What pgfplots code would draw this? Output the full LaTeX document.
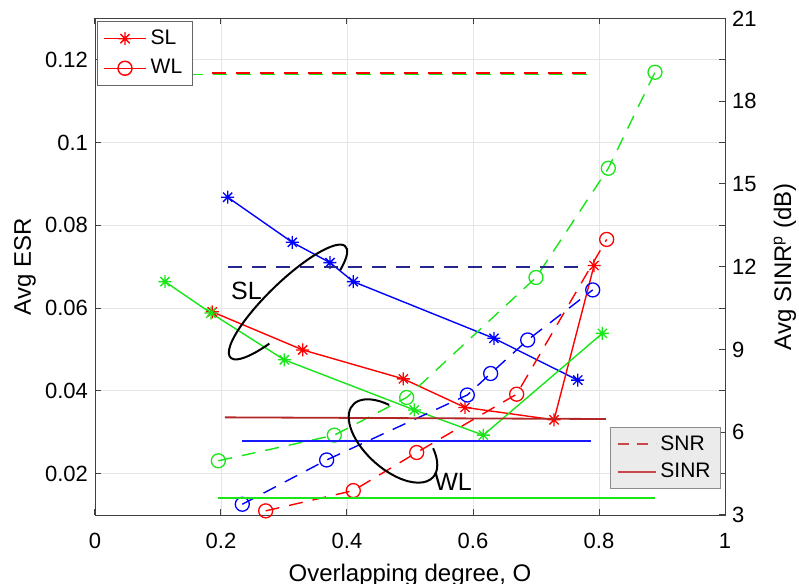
\documentclass[border=0pt]{standalone}
\usepackage{fontspec}
\setmainfont{Liberation Sans}
\usepackage{pgfplots}
\pgfplotsset{compat=1.18}
\definecolor{mred}{rgb}{1,0,0}
\definecolor{mgreen}{rgb}{0.1,0.9,0.1}
\definecolor{mblue}{rgb}{0,0,1}
\definecolor{hblue}{rgb}{0.1,0.1,1}
\definecolor{navy}{rgb}{0.15,0.15,0.55}
\definecolor{dred}{rgb}{0.7,0.15,0.15}
\definecolor{lred}{rgb}{0.8,0.28,0.28}
\pgfdeclareplotmark{ast}{%
 \pgfpathmoveto{\pgfqpoint{-\pgfplotmarksize}{0pt}}\pgfpathlineto{\pgfqpoint{\pgfplotmarksize}{0pt}}%
 \pgfpathmoveto{\pgfqpoint{0pt}{-\pgfplotmarksize}}\pgfpathlineto{\pgfqpoint{0pt}{\pgfplotmarksize}}%
 \pgfpathmoveto{\pgfqpoint{-0.7071\pgfplotmarksize}{-0.7071\pgfplotmarksize}}\pgfpathlineto{\pgfqpoint{0.7071\pgfplotmarksize}{0.7071\pgfplotmarksize}}%
 \pgfpathmoveto{\pgfqpoint{-0.7071\pgfplotmarksize}{0.7071\pgfplotmarksize}}\pgfpathlineto{\pgfqpoint{0.7071\pgfplotmarksize}{-0.7071\pgfplotmarksize}}%
 \pgfusepathqstroke}
\pgfplotsset{
 commonax/.style={width=315pt, height=248.25pt, scale only axis, xmin=0, xmax=1,
   axis line style={black!75}, tick style={black!75, line width=0.5pt}, major tick length=3pt,
   ticklabel style={font=\fontsize{11}{13}\selectfont},
   label style={font=\fontsize{12}{14}\selectfont},
   legend cell align=left},
 mystar/.style={line width=0.7pt, mark=ast, mark size=3.25pt, mark options={solid, line width=0.65pt}},
 mycirc/.style={line width=0.7pt, dash pattern=on 7pt off 5pt, mark=o, mark size=3.5pt, mark options={solid, line width=0.65pt}},
}
\begin{document}
\begin{tikzpicture}
\useasboundingbox (-47.5pt,-34.5pt) rectangle (352pt,257.5pt);
% left axis: ESR
\begin{axis}[commonax,
  ymin=0.01, ymax=0.13,
  xtick={0,0.2,0.4,0.6,0.8,1}, xticklabels={0,0.2,0.4,0.6,0.8,1},
  ytick={0.02,0.04,0.06,0.08,0.1,0.12}, yticklabels={0.02,0.04,0.06,0.08,0.1,0.12},
  grid=major, grid style={black!10, line width=0.4pt},
  xlabel={Overlapping degree, O}, ylabel={Avg ESR},
  xlabel style={at={(axis description cs:0.5,-0.121)}, anchor=center},
  ylabel style={at={(axis description cs:-0.111,0.5)}, anchor=center},
  xticklabel style={yshift=-5.5pt},
]
% SL (stars)
\addplot[color=mblue, mystar] coordinates {(0.2106,0.0868) (0.3132,0.0759) (0.3730,0.0710) (0.4100,0.0664) (0.6333,0.0527) (0.7662,0.0426)};
\addplot[color=mred, mystar] coordinates {(0.1862,0.0591) (0.3297,0.0499) (0.4894,0.0429) (0.5873,0.0360) (0.7286,0.0330) (0.7921,0.0703)};
\addplot[color=mgreen, mystar] coordinates {(0.1111,0.0664) (0.1841,0.0588) (0.3005,0.0475) (0.5068,0.0354) (0.6164,0.0293) (0.8053,0.0539)};
% WL (circles)
\addplot[color=mgreen, mycirc] coordinates {(0.1958,0.0231) (0.3799,0.0293) (0.4947,0.0384) (0.7000,0.0674) (0.8148,0.0938) (0.8889,0.1170)};
\addplot[color=mblue, mycirc] coordinates {(0.2338,0.0126) (0.3677,0.0233) (0.5910,0.0390) (0.6280,0.0442) (0.6868,0.0523) (0.7900,0.0644)};
\addplot[color=mred, mycirc] coordinates {(0.2709,0.0110) (0.4100,0.0159) (0.5106,0.0251) (0.6693,0.0392) (0.8122,0.0766)};
\end{axis}
% right axis: SNR / SINR (dB)
\begin{axis}[commonax,
  axis x line=none, axis y line*=right,
  ymin=3, ymax=21, ytick={3,6,...,21}, yticklabels={3,6,9,12,15,18,21},
  ylabel={Avg SINR\textsuperscript{p} (dB)},
  ylabel style={at={(axis description cs:1.095,0.5)}, anchor=center, rotate=0},
]
\addplot[color=mgreen, line width=0.9pt, dash pattern=on 7pt off 5pt] coordinates {(0.111,18.97) (0.795,18.97)};
\addplot[color=mred, line width=0.9pt, dash pattern=on 7pt off 5pt] coordinates {(0.186,19.01) (0.795,19.01)};
\addplot[color=navy, line width=0.9pt, dash pattern=on 7pt off 5pt] coordinates {(0.2106,12.0) (0.767,12.0)};
\addplot[color=dred, line width=0.9pt] coordinates {(0.206,6.54) (0.811,6.48)};
\addplot[color=hblue, line width=0.9pt] coordinates {(0.2338,5.67) (0.787,5.67)};
\addplot[color=mgreen, line width=0.9pt] coordinates {(0.1958,3.63) (0.889,3.63)};
\end{axis}
% legend: markers
\begin{axis}[commonax, hide axis, ymin=0, ymax=1,
  legend style={at={(axis description cs:0.003,0.994)}, anchor=north west, draw=black!60, fill=white,
    font=\fontsize{10.5}{12}\selectfont, inner xsep=3pt, inner ysep=2pt, row sep=2pt},
  legend image code/.code={\draw[mark repeat=2, mark phase=2, #1] plot coordinates {(0pt,0pt) (10.5pt,0pt) (21pt,0pt)};},
]
\addlegendimage{mred, line width=0.7pt, mark=ast, mark size=3.25pt, mark options={solid}}
\addlegendentry{SL}
\addlegendimage{mred, line width=0.7pt, mark=o, mark size=3.5pt, mark options={solid}}
\addlegendentry{WL}
\end{axis}
% legend: line styles
\begin{axis}[commonax, hide axis, ymin=0, ymax=1,
  legend style={at={(axis description cs:0.9937,0.1772)}, anchor=north east, draw=black!45, fill=black!8,
    font=\fontsize{10.5}{12}\selectfont, inner xsep=3pt, inner ysep=2pt, row sep=1pt},
  legend image code/.code={\draw[#1] (0pt,0pt) -- (19pt,0pt);},
]
\addlegendimage{lred, line width=0.8pt, dash pattern=on 5.5pt off 4pt}
\addlegendentry{SNR}
\addlegendimage{lred, line width=0.8pt}
\addlegendentry{SINR}
\end{axis}
% annotations
\begin{scope}[shift={(96.5pt,106.5pt)}, rotate=44]
\draw[line width=1pt] ({40pt*cos(-42)},{10pt*sin(-42)}) arc[start angle=-42, end angle=238, x radius=40pt, y radius=10pt];
\end{scope}
\begin{scope}[shift={(149pt,37pt)}, rotate=-42]
\draw[line width=1pt] ({27pt*cos(120)},{14pt*sin(120)}) arc[start angle=120, end angle=410, x radius=27pt, y radius=14pt];
\end{scope}
\node[font=\fontsize{12.5}{14}\selectfont] at (75.75pt,112pt) {SL};
\node[font=\fontsize{12.5}{14}\selectfont] at (179pt,16.5pt) {WL};
\end{tikzpicture}
\end{document}
